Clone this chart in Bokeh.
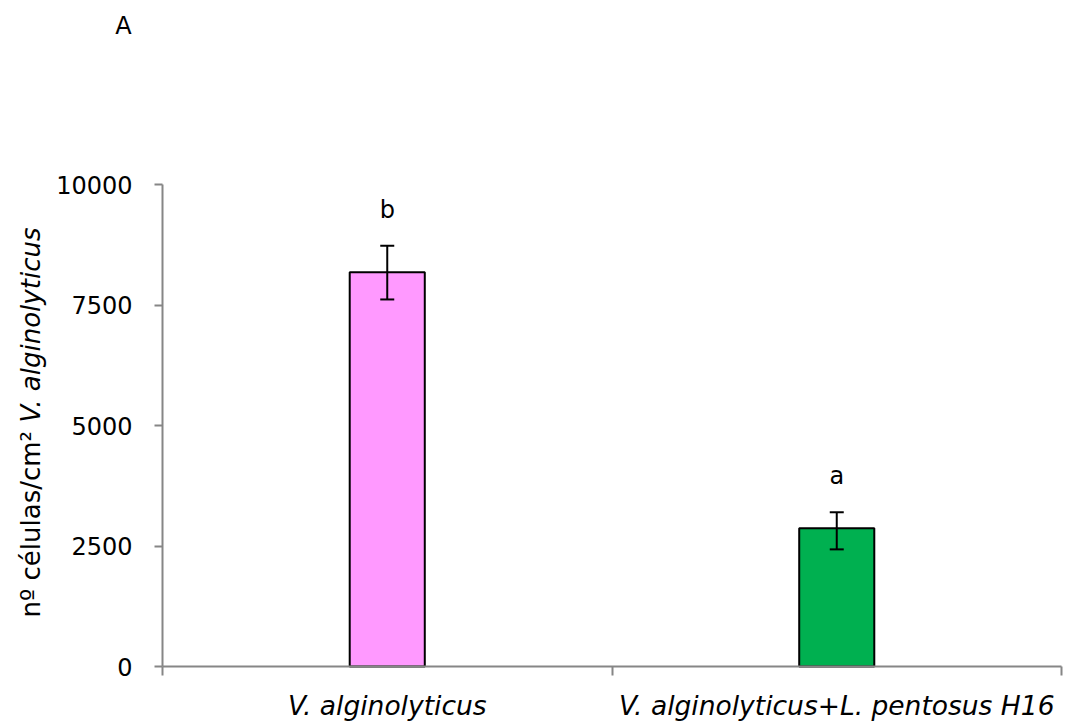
import math
from bokeh.plotting import figure
from bokeh.models import (Range1d, FixedTicker, Whisker, TeeHead, ColumnDataSource,
                          Label, NumeralTickFormatter)
from bokeh.core.properties import value
from bokeh.embed import file_html
from bokeh.resources import INLINE

# ---- data ----
categories = ["V. alginolyticus", "V. alginolyticus+L. pentosus H16"]
means = [8180, 2870]
err_upper = [8730, 3200]
err_lower = [7615, 2430]
letters = ["b", "a"]
y_ticks = [0, 2500, 5000, 7500, 10000]
y_max = 10000

# ---- styles ----
bar_colors = ["#FF99FF", "#00B050"]
AXIS_GRAY = "#868686"
FONT = "DejaVu Sans"

W, H = 1067, 722
# pixel placement of the plotting area inside the canvas
FR_LEFT, FR_RIGHT, FR_TOP, FR_BOTTOM = 162, 1061, 184, 666
n = len(categories)
ux = (FR_RIGHT - FR_LEFT) / n          # px per category
uy = (FR_BOTTOM - FR_TOP) / y_max      # px per unit
x_range = Range1d(-FR_LEFT / ux, n + (W - FR_RIGHT) / ux)
y_range = Range1d(-(H - FR_BOTTOM) / uy, y_max + FR_TOP / uy)

xs = [i + 0.5 for i in range(n)]
src = ColumnDataSource(dict(x=xs, top=means, upper=err_upper, lower=err_lower,
                            letter=letters, color=bar_colors))

p = figure(width=W, height=H, output_backend="svg", toolbar_location=None,
           x_range=x_range, y_range=y_range,
           min_border_left=0, min_border_right=0, min_border_top=0,
           min_border_bottom=0)
p.outline_line_color = None
p.xgrid.visible = False
p.ygrid.visible = False
p.background_fill_color = "white"
p.border_fill_color = "white"

p.vbar(x="x", top="top", width=0.167, source=src, fill_color="color",
       line_color="black", line_width=2)

p.text(x="x", y="upper", text="letter", source=src, text_font=value(FONT),
       text_font_size="24px", text_align="center", text_baseline="alphabetic",
       y_offset=-36, text_color="black")

whisk = Whisker(base="x", upper="upper", lower="lower", source=src,
                line_color="black", line_width=2, level="annotation",
                upper_head=TeeHead(size=14, line_color="black", line_width=2),
                lower_head=TeeHead(size=14, line_color="black", line_width=2))
p.add_layout(whisk)

# y axis, pinned at x = 0
ya = p.yaxis[0]
ya.fixed_location = 0
ya.bounds = (0, y_max)
ya.ticker = FixedTicker(ticks=y_ticks)
ya.formatter = NumeralTickFormatter(format="0")
ya.axis_line_color = AXIS_GRAY
ya.axis_line_width = 2
ya.major_tick_line_color = AXIS_GRAY
ya.major_tick_line_width = 2
ya.major_tick_out = 8
ya.major_tick_in = 0
ya.minor_tick_line_color = None
ya.major_label_text_font = FONT
ya.major_label_text_font_size = "24px"
ya.major_label_text_color = "black"
ya.major_label_standoff = 22

# x axis pinned at y = 0: labels at category centres, ticks at boundaries
xa = p.xaxis[0]
xa.fixed_location = 0
xa.bounds = (0, n)
xa.ticker = FixedTicker(ticks=xs, minor_ticks=list(range(n + 1)))
xa.major_label_overrides = dict(zip(xs, categories))
xa.axis_line_color = AXIS_GRAY
xa.axis_line_width = 2
xa.major_tick_line_color = None
xa.major_tick_out = 0
xa.major_tick_in = 0
xa.minor_tick_line_color = AXIS_GRAY
xa.minor_tick_line_width = 2
xa.minor_tick_out = 9
xa.minor_tick_in = 0
xa.major_label_text_font = FONT
xa.major_label_text_font_style = "italic"
xa.major_label_text_font_size = "26.5px"
xa.major_label_text_color = "black"
xa.major_label_standoff = 14

# y axis title (regular + italic part)
lab_x = (30 - FR_LEFT) / ux
p.add_layout(Label(x=lab_x, y=(FR_BOTTOM - 617) / uy, text="nº células/cm²",
                   angle=math.pi / 2, text_align="left", text_baseline="middle",
                   text_font=FONT, text_font_size="26px", text_color="black"))
p.add_layout(Label(x=lab_x, y=(FR_BOTTOM - 422) / uy, text="V. alginolyticus",
                   angle=math.pi / 2, text_align="left", text_baseline="middle",
                   text_font=FONT, text_font_style="italic", text_font_size="26px",
                   text_color="black"))
# panel letter
p.add_layout(Label(x=(123 - FR_LEFT) / ux, y=(FR_BOTTOM - 25) / uy, text="A",
                   text_align="center", text_baseline="middle", text_font=FONT,
                   text_font_size="24px", text_color="black"))

open("out.html", "w").write(file_html(p, INLINE))
